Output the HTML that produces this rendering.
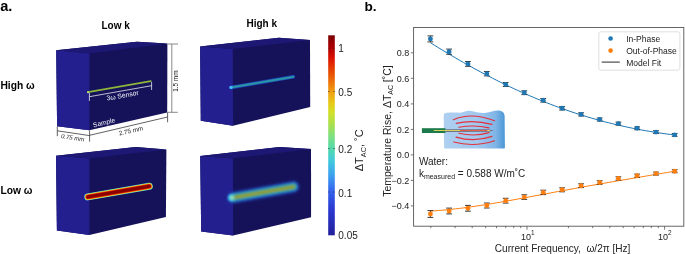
<!DOCTYPE html>
<html><head><meta charset="utf-8"><style>
html,body{margin:0;padding:0;background:#fff;width:685px;height:254px;overflow:hidden}
svg{display:block;will-change:transform;font-family:"Liberation Sans", sans-serif}
</style></head><body>
<svg width="685" height="254" viewBox="0 0 685 254">
<rect width="685" height="254" fill="#fff"/>
<text x="0.2" y="11" font-size="14.6" font-weight="bold">a.</text>
<text x="101.5" y="28.8" font-size="10" font-weight="bold">Low k</text>
<text x="246.5" y="26.8" font-size="10" font-weight="bold">High k</text>
<text x="0.4" y="88.8" font-size="10.25" font-weight="bold">High ω</text>
<text x="0.4" y="193.7" font-size="10.25" font-weight="bold">Low ω</text>
<polygon points="56.2,50.3 136.8,41.8 167.4,43.5 167.2,112.4 89.4,130.2 57.1,126.2" fill="#16125a"/><polygon points="56.2,50.3 89.4,53.6 89.4,130.2 57.1,126.2" fill="#231f8e"/><polygon points="56.2,50.3 136.8,41.8 167.4,43.5 89.4,53.6" fill="#1c1874"/>
<polygon points="200.1,46.5 278.8,37.7 310.0,40.0 310.2,107.0 233.0,125.7 200.8,120.8" fill="#16125a"/><polygon points="200.1,46.5 232.8,48.9 233.0,125.7 200.8,120.8" fill="#231f8e"/><polygon points="200.1,46.5 278.8,37.7 310.0,40.0 232.8,48.9" fill="#1c1874"/>
<polygon points="56.0,155.8 135.7,147.0 166.4,149.6 165.9,216.9 89.4,235.1 56.9,230.4" fill="#16125a"/><polygon points="56.0,155.8 89.4,158.6 89.4,235.1 56.9,230.4" fill="#231f8e"/><polygon points="56.0,155.8 135.7,147.0 166.4,149.6 89.4,158.6" fill="#1c1874"/>
<polygon points="200.2,156.1 279.5,147.1 311.0,149.0 311.1,217.2 233.1,235.5 201.2,231.4" fill="#16125a"/><polygon points="200.2,156.1 232.9,158.4 233.1,235.5 201.2,231.4" fill="#231f8e"/><polygon points="200.2,156.1 279.5,147.1 311.0,149.0 232.9,158.4" fill="#1c1874"/>
<line x1="88.0" y1="92.2" x2="150.8" y2="81.1" stroke="#8cb63a" stroke-width="1.7" stroke-linecap="round"/>
<circle cx="88.0" cy="92.2" r="1.0" fill="#c0e878"/>
<g stroke="#e8e8f0" stroke-width="0.8" fill="none"><line x1="89.4" y1="92.8" x2="89.4" y2="101"/><line x1="89.4" y1="96.7" x2="151.6" y2="85.7"/><line x1="151.6" y1="82" x2="151.6" y2="90"/></g>
<text transform="translate(107,100.6) rotate(-10.3)" font-size="6.8" fill="#f0f0f8">3ω Sensor</text>
<text transform="translate(93.6,127.4) rotate(-13.5)" font-size="6.7" fill="#f0f0f8">Sample</text>
<g stroke="#3a3a3a" stroke-width="0.8" fill="none"><line x1="57.3" y1="126.3" x2="57.3" y2="136.2"/><line x1="57.3" y1="130.8" x2="89.6" y2="135.6"/><line x1="89.6" y1="130.5" x2="89.6" y2="141.7"/><line x1="89.6" y1="135.3" x2="167.6" y2="117"/><line x1="167.6" y1="112.2" x2="167.6" y2="122.3"/></g>
<text transform="translate(60.4,138.0) rotate(8.5) skewX(-10)" font-size="6.1" fill="#1a1a1a">0.75 mm</text>
<text transform="translate(119.5,135.6) rotate(-13.2)" font-size="6.3" fill="#1a1a1a">2.75 mm</text>
<g stroke="#7c7c7c" stroke-width="0.9" fill="none"><line x1="167.4" y1="44" x2="178" y2="44"/><line x1="171.8" y1="44" x2="171.8" y2="112.3"/><line x1="167.4" y1="112.3" x2="177.8" y2="112.3"/></g>
<text transform="translate(178.4,91.8) rotate(-90)" font-size="6.4" fill="#1a1a1a">1.5 mm</text>
<defs><filter id="bl3" x="-20%" y="-200%" width="140%" height="500%"><feGaussianBlur stdDeviation="0.5"/></filter></defs>
<g filter="url(#bl3)"><line x1="231.2" y1="87.4" x2="293.3" y2="76.8" stroke-linecap="round" stroke="#2046b8" stroke-width="3.6"/><line x1="231.2" y1="87.4" x2="293.3" y2="76.8" stroke-linecap="round" stroke="#2680ae" stroke-width="2.3"/><line x1="231.2" y1="87.4" x2="293.3" y2="76.8" stroke-linecap="round" stroke="#2a98a6" stroke-width="1.2"/></g>
<g filter="url(#bl3)"><circle cx="231.0" cy="87.4" r="1.7" fill="#40b8ff"/></g>
<defs><filter id="bl0" x="-10%" y="-100%" width="120%" height="300%"><feGaussianBlur stdDeviation="0.45"/></filter></defs>
<g filter="url(#bl0)"><line x1="87.8" y1="196.9" x2="149.3" y2="186.25" stroke-linecap="round" stroke="#60c8e0" stroke-width="6.9"/><line x1="87.8" y1="196.9" x2="149.3" y2="186.25" stroke-linecap="round" stroke="#a0e070" stroke-width="6.3"/><line x1="87.8" y1="196.9" x2="149.3" y2="186.25" stroke-linecap="round" stroke="#f0d820" stroke-width="5.6"/><line x1="87.8" y1="196.9" x2="149.3" y2="186.25" stroke-linecap="round" stroke="#f06010" stroke-width="4.9"/><line x1="87.8" y1="196.9" x2="149.3" y2="186.25" stroke-linecap="round" stroke="#cc1000" stroke-width="4.1"/><line x1="87.8" y1="196.9" x2="149.3" y2="186.25" stroke-linecap="round" stroke="#880000" stroke-width="2.9"/></g>
<defs><filter id="bl1" x="-30%" y="-150%" width="160%" height="400%"><feGaussianBlur stdDeviation="1.8"/></filter><filter id="bl2" x="-20%" y="-100%" width="140%" height="300%"><feGaussianBlur stdDeviation="0.9"/></filter></defs>
<g filter="url(#bl1)"><line x1="233.2" y1="197.6" x2="293.4" y2="186.8" stroke-linecap="round" stroke="#2450c4" stroke-width="11"/></g>
<g filter="url(#bl2)"><line x1="233.2" y1="197.6" x2="293.4" y2="186.8" stroke-linecap="round" stroke="#2a92b4" stroke-width="8"/><line x1="233.2" y1="197.6" x2="293.4" y2="186.8" stroke-linecap="round" stroke="#3ea894" stroke-width="5.6"/><line x1="233.2" y1="197.6" x2="293.4" y2="186.8" stroke-linecap="round" stroke="#7aa040" stroke-width="3.4"/><line x1="233.2" y1="197.6" x2="293.4" y2="186.8" stroke-linecap="round" stroke="#9c9a1c" stroke-width="1.8"/></g>
<g filter="url(#bl2)"><circle cx="231.4" cy="197.8" r="3.3" fill="#40c8f0"/><circle cx="232.2" cy="197.7" r="1.6" fill="#b0e070"/></g>
<defs><linearGradient id="jet" x1="0" y1="1" x2="0" y2="0"><stop offset="0.0" stop-color="#22209c"/><stop offset="0.1275" stop-color="#2a38d0"/><stop offset="0.2175" stop-color="#3460ec"/><stop offset="0.2875" stop-color="#3c98f0"/><stop offset="0.3675" stop-color="#40c8e0"/><stop offset="0.4275" stop-color="#50d8b0"/><stop offset="0.4875" stop-color="#78e088"/><stop offset="0.5525" stop-color="#a8e050"/><stop offset="0.6175" stop-color="#d4e028"/><stop offset="0.6625" stop-color="#e8c818"/><stop offset="0.7225" stop-color="#f09a10"/><stop offset="0.7775" stop-color="#ec6a08"/><stop offset="0.8375" stop-color="#e43800"/><stop offset="0.8875" stop-color="#dc1000"/><stop offset="0.9375" stop-color="#b00000"/><stop offset="1.0" stop-color="#7a0000"/></linearGradient></defs>
<rect x="328.2" y="35.3" width="6.6" height="200" fill="url(#jet)"/>
<line x1="328.2" y1="48.3" x2="329.6" y2="48.3" stroke="#333" stroke-width="0.7"/><line x1="333.4" y1="48.3" x2="334.8" y2="48.3" stroke="#333" stroke-width="0.7"/>
<line x1="328.2" y1="91.5" x2="329.6" y2="91.5" stroke="#333" stroke-width="0.7"/><line x1="333.4" y1="91.5" x2="334.8" y2="91.5" stroke="#333" stroke-width="0.7"/>
<line x1="328.2" y1="148.5" x2="329.6" y2="148.5" stroke="#333" stroke-width="0.7"/><line x1="333.4" y1="148.5" x2="334.8" y2="148.5" stroke="#333" stroke-width="0.7"/>
<line x1="328.2" y1="192.0" x2="329.6" y2="192.0" stroke="#333" stroke-width="0.7"/><line x1="333.4" y1="192.0" x2="334.8" y2="192.0" stroke="#333" stroke-width="0.7"/>
<text x="338.3" y="52.2" font-size="10" fill="#222">1</text>
<text x="338.3" y="96.2" font-size="10" fill="#222">0.5</text>
<text x="338.3" y="153.2" font-size="10" fill="#222">0.2</text>
<text x="338.3" y="196.7" font-size="10" fill="#222">0.1</text>
<text x="338.3" y="239.3" font-size="10" fill="#222">0.05</text>
<text transform="translate(363,171.2) rotate(-90) scale(1.045,1)" font-size="10.5" fill="#222">ΔT<tspan font-size="7" dy="2.5">AC</tspan><tspan dy="-2.5">, ˚C</tspan></text>
<text x="364.5" y="11.4" font-size="13.6" font-weight="bold">b.</text>
<rect x="413.6" y="27.5" width="270.2" height="198.7" fill="none" stroke="#555" stroke-width="0.9"/>
<line x1="410.8" y1="52.8" x2="413.6" y2="52.8" stroke="#555" stroke-width="0.8"/>
<text x="409.2" y="56.0" font-size="9" text-anchor="end" fill="#222">0.8</text>
<line x1="410.8" y1="78.3" x2="413.6" y2="78.3" stroke="#555" stroke-width="0.8"/>
<text x="409.2" y="81.5" font-size="9" text-anchor="end" fill="#222">0.6</text>
<line x1="410.8" y1="103.9" x2="413.6" y2="103.9" stroke="#555" stroke-width="0.8"/>
<text x="409.2" y="107.1" font-size="9" text-anchor="end" fill="#222">0.4</text>
<line x1="410.8" y1="129.4" x2="413.6" y2="129.4" stroke="#555" stroke-width="0.8"/>
<text x="409.2" y="132.6" font-size="9" text-anchor="end" fill="#222">0.2</text>
<line x1="410.8" y1="154.9" x2="413.6" y2="154.9" stroke="#555" stroke-width="0.8"/>
<text x="409.2" y="158.1" font-size="9" text-anchor="end" fill="#222">0.0</text>
<line x1="410.8" y1="180.4" x2="413.6" y2="180.4" stroke="#555" stroke-width="0.8"/>
<text x="409.2" y="183.6" font-size="9" text-anchor="end" fill="#222">−0.2</text>
<line x1="410.8" y1="205.9" x2="413.6" y2="205.9" stroke="#555" stroke-width="0.8"/>
<text x="409.2" y="209.1" font-size="9" text-anchor="end" fill="#222">−0.4</text>
<line x1="430.8" y1="226.2" x2="430.8" y2="228.2" stroke="#555" stroke-width="0.8"/>
<line x1="455.1" y1="226.2" x2="455.1" y2="228.2" stroke="#555" stroke-width="0.8"/>
<line x1="472.2" y1="226.2" x2="472.2" y2="228.2" stroke="#555" stroke-width="0.8"/>
<line x1="485.6" y1="226.2" x2="485.6" y2="228.2" stroke="#555" stroke-width="0.8"/>
<line x1="496.5" y1="226.2" x2="496.5" y2="228.2" stroke="#555" stroke-width="0.8"/>
<line x1="505.7" y1="226.2" x2="505.7" y2="228.2" stroke="#555" stroke-width="0.8"/>
<line x1="513.7" y1="226.2" x2="513.7" y2="228.2" stroke="#555" stroke-width="0.8"/>
<line x1="520.7" y1="226.2" x2="520.7" y2="228.2" stroke="#555" stroke-width="0.8"/>
<line x1="527.0" y1="226.2" x2="527.0" y2="229.7" stroke="#555" stroke-width="0.8"/>
<line x1="568.4" y1="226.2" x2="568.4" y2="228.2" stroke="#555" stroke-width="0.8"/>
<line x1="592.7" y1="226.2" x2="592.7" y2="228.2" stroke="#555" stroke-width="0.8"/>
<line x1="609.8" y1="226.2" x2="609.8" y2="228.2" stroke="#555" stroke-width="0.8"/>
<line x1="623.2" y1="226.2" x2="623.2" y2="228.2" stroke="#555" stroke-width="0.8"/>
<line x1="634.1" y1="226.2" x2="634.1" y2="228.2" stroke="#555" stroke-width="0.8"/>
<line x1="643.3" y1="226.2" x2="643.3" y2="228.2" stroke="#555" stroke-width="0.8"/>
<line x1="651.3" y1="226.2" x2="651.3" y2="228.2" stroke="#555" stroke-width="0.8"/>
<line x1="658.3" y1="226.2" x2="658.3" y2="228.2" stroke="#555" stroke-width="0.8"/>
<line x1="664.6" y1="226.2" x2="664.6" y2="229.7" stroke="#555" stroke-width="0.8"/>
<text x="521" y="240" font-size="9" fill="#222">10<tspan font-size="6.4" dy="-5">1</tspan></text>
<text x="658" y="240" font-size="9" fill="#222">10<tspan font-size="6.4" dy="-5">2</tspan></text>
<text transform="translate(494.8,251.5) scale(1,1.07)" font-size="10.1" fill="#222" style="white-space:pre" xml:space="preserve">Current Frequency,  ω/2π [Hz]</text>
<text transform="translate(390.7,196.8) rotate(-90) scale(1.05,1)" font-size="10" fill="#222">Temperature Rise, ΔT<tspan font-size="6.6" dy="2.4">AC</tspan><tspan dy="-2.4"> [˚C]</tspan></text>
<defs><linearGradient id="wat" x1="0" y1="0" x2="1" y2="0"><stop offset="0" stop-color="#aecff0"/><stop offset="0.55" stop-color="#a2c9ef"/><stop offset="0.85" stop-color="#7fb4e6"/><stop offset="1" stop-color="#4b97d6"/></linearGradient></defs>
<path d="M443.7,116 C443.7,113.8 445,112.8 447,112.7 C451,112.4 456,112.4 460,112.8 C463,112.6 466,110.9 468.8,110.8 C472,110.8 475,112.2 478,112.6 C481,113 484,113.1 486,112.8 C490,112.3 494,110.4 497.6,110.4 C501.5,110.4 504.5,112 504.6,116 L504.9,147.6 C504.9,148.3 504.5,148.6 503.8,148.6 L444.2,148.6 Z" fill="url(#wat)"/>
<g stroke="#e4303c" stroke-width="1.15" fill="none" stroke-linecap="round"><path d="M453.4,119.7 Q471.6,111.8 494.6,120.7"/><path d="M456.2,123.4 Q472.9,119.3 492.0,124.4"/><path d="M458.9,127.3 Q474.4,124.4 489.0,127.9"/><path d="M458.9,133.2 Q474.4,137.1 489.0,132.6"/><path d="M456.0,137.1 Q474.4,142.6 492.0,136.4"/><path d="M453.6,142.0 Q474.3,147.5 494.5,140.7"/></g>
<rect x="421.9" y="128.2" width="23.6" height="4.8" fill="#1d7a4b"/>
<polygon points="445.5,129.2 488,129.3 493.9,130.5 488,131.8 445.5,131.9" fill="#6c7088"/>
<line x1="433.7" y1="130.5" x2="460" y2="130.5" stroke="#d8cf58" stroke-width="1"/>
<line x1="460" y1="130.5" x2="487.2" y2="130.5" stroke="#e06048" stroke-width="1.1"/>
<line x1="487.2" y1="130.5" x2="489.8" y2="130.5" stroke="#e8d860" stroke-width="1.1"/>
<text x="418.9" y="165.2" font-size="10" fill="#222">Water:</text>
<text x="418.9" y="177.2" font-size="10" fill="#222">k<tspan font-size="7" dy="1.8">measured</tspan><tspan dy="-1.8"> = 0.588 W/m˚C</tspan></text>
<polyline points="430.5,42.79 434.6,45.36 438.8,47.90 442.9,50.42 447.0,52.91 451.2,55.36 455.3,57.79 459.4,60.19 463.6,62.56 467.7,64.89 471.9,67.20 476.0,69.47 480.1,71.70 484.3,73.90 488.4,76.07 492.5,78.21 496.7,80.30 500.8,82.37 504.9,84.39 509.1,86.38 513.2,88.34 517.3,90.25 521.5,92.13 525.6,93.97 529.8,95.78 533.9,97.54 538.0,99.27 542.2,100.96 546.3,102.61 550.4,104.22 554.6,105.79 558.7,107.32 562.8,108.82 567.0,110.27 571.1,111.69 575.2,113.07 579.4,114.40 583.5,115.70 587.7,116.97 591.8,118.19 595.9,119.37 600.1,120.52 604.2,121.63 608.3,122.70 612.5,123.73 616.6,124.73 620.7,125.68 624.9,126.61 629.0,127.49 633.1,128.34 637.3,129.16 641.4,129.93 645.6,130.68 649.7,131.39 653.8,132.07 658.0,132.71 662.1,133.32 666.2,133.90 670.4,134.45 674.5,134.96" fill="none" stroke="#1f77b4" stroke-width="1.0"/>
<polyline points="430.4,211.07 434.5,210.82 438.7,210.52 442.8,210.18 447.0,209.79 451.1,209.37 455.2,208.91 459.4,208.42 463.5,207.89 467.7,207.34 471.8,206.76 475.9,206.15 480.1,205.52 484.2,204.87 488.3,204.21 492.5,203.52 496.6,202.82 500.8,202.10 504.9,201.37 509.0,200.64 513.2,199.89 517.3,199.13 521.5,198.37 525.6,197.61 529.7,196.83 533.9,196.06 538.0,195.29 542.2,194.51 546.3,193.73 550.4,192.96 554.6,192.18 558.7,191.41 562.8,190.64 567.0,189.88 571.1,189.12 575.3,188.36 579.4,187.61 583.5,186.86 587.7,186.12 591.8,185.38 596.0,184.65 600.1,183.92 604.2,183.20 608.4,182.48 612.5,181.77 616.7,181.06 620.8,180.35 624.9,179.65 629.1,178.95 633.2,178.25 637.3,177.55 641.5,176.85 645.6,176.15 649.8,175.45 653.9,174.75 658.0,174.05 662.2,173.34 666.3,172.62 670.5,171.90 674.6,171.17" fill="none" stroke="#ff7f0e" stroke-width="1.0"/>
<g stroke="#262626" stroke-width="0.9"><line x1="430.4" y1="35.9" x2="430.4" y2="41.9"/><line x1="427.5" y1="35.9" x2="433.3" y2="35.9"/><line x1="427.5" y1="41.9" x2="433.3" y2="41.9"/></g>
<circle cx="430.4" cy="38.9" r="2.45" fill="#1f77b4"/>
<g stroke="#262626" stroke-width="0.9"><line x1="449.1" y1="49.1" x2="449.1" y2="54.3"/><line x1="446.2" y1="49.1" x2="452.0" y2="49.1"/><line x1="446.2" y1="54.3" x2="452.0" y2="54.3"/></g>
<circle cx="449.1" cy="51.7" r="2.45" fill="#1f77b4"/>
<g stroke="#262626" stroke-width="0.9"><line x1="467.9" y1="61.5" x2="467.9" y2="66.3"/><line x1="465.0" y1="61.5" x2="470.8" y2="61.5"/><line x1="465.0" y1="66.3" x2="470.8" y2="66.3"/></g>
<circle cx="467.9" cy="63.9" r="2.45" fill="#1f77b4"/>
<g stroke="#262626" stroke-width="0.9"><line x1="486.8" y1="71.5" x2="486.8" y2="75.9"/><line x1="483.9" y1="71.5" x2="489.7" y2="71.5"/><line x1="483.9" y1="75.9" x2="489.7" y2="75.9"/></g>
<circle cx="486.8" cy="73.7" r="2.45" fill="#1f77b4"/>
<g stroke="#262626" stroke-width="0.9"><line x1="505.7" y1="82.5" x2="505.7" y2="86.5"/><line x1="502.8" y1="82.5" x2="508.6" y2="82.5"/><line x1="502.8" y1="86.5" x2="508.6" y2="86.5"/></g>
<circle cx="505.7" cy="84.5" r="2.45" fill="#1f77b4"/>
<g stroke="#262626" stroke-width="0.9"><line x1="524.3" y1="90.8" x2="524.3" y2="94.6"/><line x1="521.4" y1="90.8" x2="527.2" y2="90.8"/><line x1="521.4" y1="94.6" x2="527.2" y2="94.6"/></g>
<circle cx="524.3" cy="92.7" r="2.45" fill="#1f77b4"/>
<g stroke="#262626" stroke-width="0.9"><line x1="543.2" y1="98.5" x2="543.2" y2="102.1"/><line x1="540.3" y1="98.5" x2="546.1" y2="98.5"/><line x1="540.3" y1="102.1" x2="546.1" y2="102.1"/></g>
<circle cx="543.2" cy="100.3" r="2.45" fill="#1f77b4"/>
<g stroke="#262626" stroke-width="0.9"><line x1="562.1" y1="106.6" x2="562.1" y2="110.0"/><line x1="559.2" y1="106.6" x2="565.0" y2="106.6"/><line x1="559.2" y1="110.0" x2="565.0" y2="110.0"/></g>
<circle cx="562.1" cy="108.3" r="2.45" fill="#1f77b4"/>
<g stroke="#262626" stroke-width="0.9"><line x1="581.1" y1="112.8" x2="581.1" y2="116.0"/><line x1="578.2" y1="112.8" x2="584.0" y2="112.8"/><line x1="578.2" y1="116.0" x2="584.0" y2="116.0"/></g>
<circle cx="581.1" cy="114.4" r="2.45" fill="#1f77b4"/>
<g stroke="#262626" stroke-width="0.9"><line x1="599.7" y1="118.0" x2="599.7" y2="121.0"/><line x1="596.8" y1="118.0" x2="602.6" y2="118.0"/><line x1="596.8" y1="121.0" x2="602.6" y2="121.0"/></g>
<circle cx="599.7" cy="119.5" r="2.45" fill="#1f77b4"/>
<g stroke="#262626" stroke-width="0.9"><line x1="618.4" y1="122.1" x2="618.4" y2="125.1"/><line x1="615.5" y1="122.1" x2="621.3" y2="122.1"/><line x1="615.5" y1="125.1" x2="621.3" y2="125.1"/></g>
<circle cx="618.4" cy="123.6" r="2.45" fill="#1f77b4"/>
<g stroke="#262626" stroke-width="0.9"><line x1="637.1" y1="126.9" x2="637.1" y2="129.7"/><line x1="634.2" y1="126.9" x2="640.0" y2="126.9"/><line x1="634.2" y1="129.7" x2="640.0" y2="129.7"/></g>
<circle cx="637.1" cy="128.3" r="2.45" fill="#1f77b4"/>
<g stroke="#262626" stroke-width="0.9"><line x1="656.0" y1="130.7" x2="656.0" y2="133.5"/><line x1="653.1" y1="130.7" x2="658.9" y2="130.7"/><line x1="653.1" y1="133.5" x2="658.9" y2="133.5"/></g>
<circle cx="656.0" cy="132.1" r="2.45" fill="#1f77b4"/>
<g stroke="#262626" stroke-width="0.9"><line x1="674.7" y1="133.5" x2="674.7" y2="136.3"/><line x1="671.8" y1="133.5" x2="677.6" y2="133.5"/><line x1="671.8" y1="136.3" x2="677.6" y2="136.3"/></g>
<circle cx="674.7" cy="134.9" r="2.45" fill="#1f77b4"/>
<g stroke="#262626" stroke-width="0.9"><line x1="430.4" y1="210.6" x2="430.4" y2="217.4"/><line x1="427.5" y1="210.6" x2="433.3" y2="210.6"/><line x1="427.5" y1="217.4" x2="433.3" y2="217.4"/></g>
<circle cx="430.4" cy="214.0" r="2.45" fill="#ff7f0e"/>
<g stroke="#262626" stroke-width="0.9"><line x1="449.1" y1="208.1" x2="449.1" y2="213.9"/><line x1="446.2" y1="208.1" x2="452.0" y2="208.1"/><line x1="446.2" y1="213.9" x2="452.0" y2="213.9"/></g>
<circle cx="449.1" cy="211.0" r="2.45" fill="#ff7f0e"/>
<g stroke="#262626" stroke-width="0.9"><line x1="467.9" y1="205.4" x2="467.9" y2="211.2"/><line x1="465.0" y1="205.4" x2="470.8" y2="205.4"/><line x1="465.0" y1="211.2" x2="470.8" y2="211.2"/></g>
<circle cx="467.9" cy="208.3" r="2.45" fill="#ff7f0e"/>
<g stroke="#262626" stroke-width="0.9"><line x1="486.8" y1="203.0" x2="486.8" y2="208.0"/><line x1="483.9" y1="203.0" x2="489.7" y2="203.0"/><line x1="483.9" y1="208.0" x2="489.7" y2="208.0"/></g>
<circle cx="486.8" cy="205.5" r="2.45" fill="#ff7f0e"/>
<g stroke="#262626" stroke-width="0.9"><line x1="505.7" y1="198.3" x2="505.7" y2="203.1"/><line x1="502.8" y1="198.3" x2="508.6" y2="198.3"/><line x1="502.8" y1="203.1" x2="508.6" y2="203.1"/></g>
<circle cx="505.7" cy="200.7" r="2.45" fill="#ff7f0e"/>
<g stroke="#262626" stroke-width="0.9"><line x1="524.3" y1="194.8" x2="524.3" y2="199.4"/><line x1="521.4" y1="194.8" x2="527.2" y2="194.8"/><line x1="521.4" y1="199.4" x2="527.2" y2="199.4"/></g>
<circle cx="524.3" cy="197.1" r="2.45" fill="#ff7f0e"/>
<g stroke="#262626" stroke-width="0.9"><line x1="543.2" y1="190.2" x2="543.2" y2="194.6"/><line x1="540.3" y1="190.2" x2="546.1" y2="190.2"/><line x1="540.3" y1="194.6" x2="546.1" y2="194.6"/></g>
<circle cx="543.2" cy="192.4" r="2.45" fill="#ff7f0e"/>
<g stroke="#262626" stroke-width="0.9"><line x1="562.1" y1="187.8" x2="562.1" y2="191.8"/><line x1="559.2" y1="187.8" x2="565.0" y2="187.8"/><line x1="559.2" y1="191.8" x2="565.0" y2="191.8"/></g>
<circle cx="562.1" cy="189.8" r="2.45" fill="#ff7f0e"/>
<g stroke="#262626" stroke-width="0.9"><line x1="581.1" y1="183.8" x2="581.1" y2="187.6"/><line x1="578.2" y1="183.8" x2="584.0" y2="183.8"/><line x1="578.2" y1="187.6" x2="584.0" y2="187.6"/></g>
<circle cx="581.1" cy="185.7" r="2.45" fill="#ff7f0e"/>
<g stroke="#262626" stroke-width="0.9"><line x1="599.7" y1="180.7" x2="599.7" y2="184.3"/><line x1="596.8" y1="180.7" x2="602.6" y2="180.7"/><line x1="596.8" y1="184.3" x2="602.6" y2="184.3"/></g>
<circle cx="599.7" cy="182.5" r="2.45" fill="#ff7f0e"/>
<g stroke="#262626" stroke-width="0.9"><line x1="618.4" y1="176.8" x2="618.4" y2="180.2"/><line x1="615.5" y1="176.8" x2="621.3" y2="176.8"/><line x1="615.5" y1="180.2" x2="621.3" y2="180.2"/></g>
<circle cx="618.4" cy="178.5" r="2.45" fill="#ff7f0e"/>
<g stroke="#262626" stroke-width="0.9"><line x1="637.1" y1="174.1" x2="637.1" y2="177.3"/><line x1="634.2" y1="174.1" x2="640.0" y2="174.1"/><line x1="634.2" y1="177.3" x2="640.0" y2="177.3"/></g>
<circle cx="637.1" cy="175.7" r="2.45" fill="#ff7f0e"/>
<g stroke="#262626" stroke-width="0.9"><line x1="656.0" y1="172.1" x2="656.0" y2="175.1"/><line x1="653.1" y1="172.1" x2="658.9" y2="172.1"/><line x1="653.1" y1="175.1" x2="658.9" y2="175.1"/></g>
<circle cx="656.0" cy="173.6" r="2.45" fill="#ff7f0e"/>
<g stroke="#262626" stroke-width="0.9"><line x1="674.7" y1="169.7" x2="674.7" y2="172.7"/><line x1="671.8" y1="169.7" x2="677.6" y2="169.7"/><line x1="671.8" y1="172.7" x2="677.6" y2="172.7"/></g>
<circle cx="674.7" cy="171.2" r="2.45" fill="#ff7f0e"/>
<rect x="598.8" y="31.8" width="81.1" height="38.4" rx="2" fill="#fff" fill-opacity="0.8" stroke="#d8d8d8" stroke-width="0.8"/>
<circle cx="610.6" cy="38.5" r="2.3" fill="#1f77b4"/>
<circle cx="610.6" cy="50.6" r="2.3" fill="#ff7f0e"/>
<line x1="601.7" y1="62.1" x2="619.8" y2="62.1" stroke="#3a3a3a" stroke-width="1.1"/>
<text x="626.2" y="41.8" font-size="8.5" fill="#222">In-Phase</text>
<text x="626.2" y="54" font-size="8.5" fill="#222">Out-of-Phase</text>
<text x="626.2" y="65.6" font-size="8.5" fill="#222">Model Fit</text>
</svg>
</body></html>
